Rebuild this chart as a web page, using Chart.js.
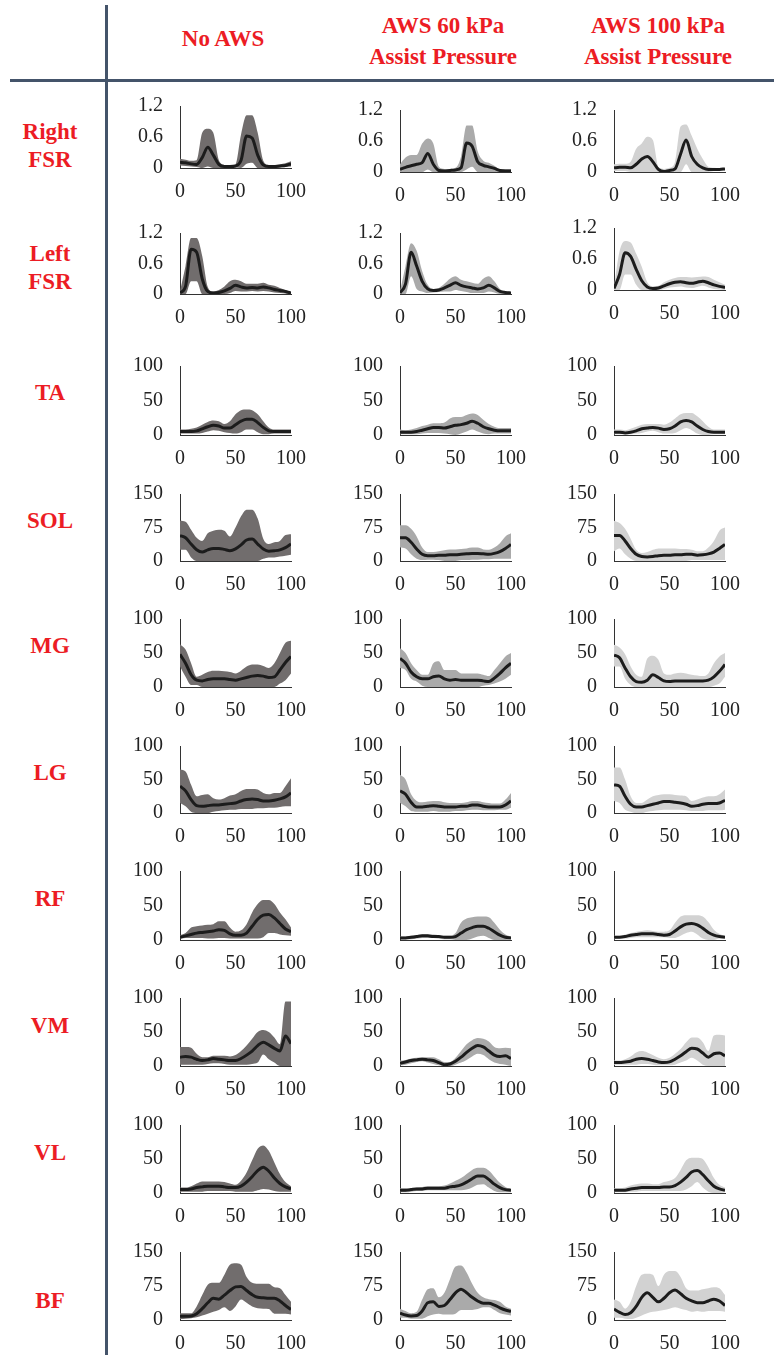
<!DOCTYPE html>
<html>
<head>
<meta charset="utf-8">
<script src="https://cdn.jsdelivr.net/npm/chart.js@4.4.1/dist/chart.umd.min.js"></script>
<style>
  body { margin: 0; background: #fff; }
  #page { position: relative; width: 774px; height: 1355px; overflow: hidden;
          font-family: 'Liberation Serif', 'Times New Roman', serif; }
  .lbl { position: absolute; color: #EC1C24; font-weight: bold; font-size: 23px;
         text-align: center; line-height: 31px; white-space: nowrap;
         transform: translate(-50%, -50%); }
  .rule { position: absolute; background: #44546A; }
  canvas { position: absolute; }
</style>
</head>
<body>
<div id="page">
  <div class="rule" style="left:105px;top:5px;width:3px;height:1350px"></div>
  <div class="rule" style="left:10px;top:79px;width:764px;height:3px"></div>

  <div class="lbl" style="left:223px;top:38px">No AWS</div>
  <div class="lbl" style="left:443px;top:41px">AWS 60 kPa<br>Assist Pressure</div>
  <div class="lbl" style="left:658px;top:41px">AWS 100 kPa<br>Assist Pressure</div>

  <div class="lbl" style="left:50px;top:146px;line-height:28px">Right<br>FSR</div>
  <div class="lbl" style="left:50px;top:268px;line-height:28px">Left<br>FSR</div>
  <div class="lbl" style="left:50px;top:392px">TA</div>
  <div class="lbl" style="left:50px;top:520px">SOL</div>
  <div class="lbl" style="left:50px;top:645px">MG</div>
  <div class="lbl" style="left:50px;top:772px">LG</div>
  <div class="lbl" style="left:50px;top:898px">RF</div>
  <div class="lbl" style="left:50px;top:1025px">VM</div>
  <div class="lbl" style="left:50px;top:1152px">VL</div>
  <div class="lbl" style="left:50px;top:1300px">BF</div>
</div>
<script>
// % gait cycle
const PCT = [0,5,10,15,20,25,30,35,40,45,50,55,60,65,70,75,80,85,90,95,100];
const X_TICKS = [0, 50, 100];
const FSR_TICKS = [0, 0.6, 1.2];
const EMG_TICKS = [0, 50, 100];
const EMG_TICKS_150 = [0, 75, 150];

// Right FSR
const rfsrNoMean = [0.11,0.10,0.08,0.07,0.20,0.40,0.25,0.07,0.03,0.03,0.04,0.15,0.62,0.58,0.25,0.06,0.03,0.03,0.04,0.05,0.08];
const rfsrNoHi   = [0.18,0.16,0.14,0.15,0.68,0.76,0.68,0.15,0.06,0.05,0.07,0.65,1.02,1.02,0.68,0.14,0.06,0.06,0.07,0.09,0.13];
const rfsrNoLo   = [0.05,0.04,0.03,0.02,0,0.03,0,0,0,0,0.01,0,0.08,0.10,0,0,0,0,0.01,0.02,0.03];
const rfsr60Mean = [0.05,0.09,0.12,0.15,0.18,0.36,0.15,0.03,0.02,0.03,0.04,0.08,0.56,0.50,0.20,0.13,0.10,0.07,0.03,0.02,0.02];
const rfsr60Hi   = [0.15,0.28,0.33,0.33,0.55,0.65,0.55,0.10,0.06,0.06,0.08,0.30,0.90,0.90,0.40,0.22,0.18,0.12,0.06,0.06,0.06];
const rfsr60Lo   = [0,0,0,0,0,0.05,0,0,0,0,0,0,0.05,0.10,0,0,0,0,0,0,0];
const rfsr100Mean = [0.08,0.09,0.09,0.08,0.15,0.25,0.30,0.20,0.05,0.01,0.03,0.06,0.35,0.62,0.30,0.15,0.08,0.05,0.05,0.05,0.06];
const rfsr100Hi   = [0.15,0.16,0.16,0.20,0.45,0.55,0.68,0.62,0.10,0.06,0.08,0.20,0.88,0.92,0.70,0.45,0.25,0.10,0.08,0.07,0.07];
const rfsr100Lo   = [0.02,0.02,0.02,0,0,0,0,0,0,0,0,0,0,0.15,0,0,0,0,0.02,0.02,0.03];

// Left FSR
const lfsrNoMean = [0.02,0.15,0.88,0.82,0.30,0.05,0.02,0.03,0.06,0.11,0.17,0.14,0.12,0.13,0.12,0.14,0.12,0.09,0.07,0.05,0.02];
const lfsrNoHi   = [0.05,0.55,1.10,1.10,0.75,0.14,0.05,0.08,0.15,0.25,0.28,0.25,0.20,0.20,0.20,0.22,0.18,0.16,0.12,0.08,0.04];
const lfsrNoLo   = [0,0,0.25,0.25,0,0,0,0,0,0.02,0.06,0.05,0.05,0.06,0.05,0.06,0.05,0.03,0.02,0.01,0];
const lfsr60Mean = [0.02,0.20,0.82,0.55,0.25,0.10,0.07,0.08,0.12,0.17,0.22,0.17,0.14,0.12,0.10,0.12,0.17,0.12,0.05,0.03,0.02];
const lfsr60Hi   = [0.05,0.55,1.00,0.85,0.45,0.18,0.10,0.12,0.20,0.30,0.35,0.28,0.25,0.22,0.20,0.30,0.35,0.25,0.10,0.05,0.04];
const lfsr60Lo   = [0,0,0.35,0.10,0.05,0.02,0.03,0.04,0.05,0.05,0.08,0.06,0.04,0.02,0.02,0.02,0.05,0.03,0,0,0];
const lfsr100Mean = [0.03,0.30,0.72,0.65,0.40,0.18,0.06,0.03,0.04,0.08,0.12,0.15,0.16,0.14,0.13,0.15,0.17,0.14,0.10,0.07,0.05];
const lfsr100Hi   = [0.06,0.75,0.95,0.92,0.70,0.45,0.15,0.07,0.08,0.15,0.20,0.23,0.25,0.25,0.24,0.25,0.26,0.25,0.20,0.15,0.10];
const lfsr100Lo   = [0,0,0.30,0.30,0.10,0,0,0,0,0.02,0.05,0.06,0.07,0.05,0.04,0.06,0.08,0.05,0.02,0.01,0];

// TA
const taNoMean = [5,5,5,6,9,12,14,13,10,10,15,20,23,23,18,11,6,5,5,5,5];
const taNoHi   = [8,8,9,11,15,19,21,20,16,20,30,36,37,36,30,20,11,8,8,8,8];
const taNoLo   = [2,2,2,2,3,5,7,6,4,3,2,4,8,8,4,1,1,2,2,2,2];
const ta60Mean = [4,4,4,5,7,9,11,11,10,12,14,15,17,20,17,12,9,7,6,6,6];
const ta60Hi   = [8,7,8,10,13,15,17,17,18,24,26,26,29,31,29,22,16,12,10,10,10];
const ta60Lo   = [1,1,1,1,2,3,3,3,2,1,0,2,5,8,5,2,1,2,2,2,2];
const ta100Mean = [4,4,3,4,6,9,10,11,10,8,9,13,19,21,19,13,8,5,4,4,4];
const ta100Hi   = [8,8,7,9,12,15,16,16,16,15,18,24,30,32,32,27,20,12,8,8,8];
const ta100Lo   = [1,1,1,1,2,3,5,6,4,2,2,3,7,10,7,2,0,0,1,1,1];

// SOL
const solNoMean = [57,52,38,25,20,25,28,28,26,23,27,36,47,49,38,27,22,23,25,30,38];
const solNoHi   = [90,88,70,52,45,62,68,70,68,55,75,100,115,115,95,50,38,42,45,58,60];
const solNoLo   = [25,25,8,0,0,0,0,0,0,0,0,0,0,0,0,5,8,8,10,12,14];
const sol60Mean = [52,52,42,27,15,12,12,13,13,14,14,15,16,17,17,16,15,17,21,28,37];
const sol60Hi   = [80,80,72,55,30,20,20,22,24,26,26,27,28,30,30,26,25,30,40,55,62];
const sol60Lo   = [30,28,15,5,2,3,3,2,0,0,0,2,2,3,3,4,4,5,5,5,5];
const sol100Mean = [57,57,45,28,15,10,9,10,12,13,13,14,14,15,15,13,14,16,20,28,37];
const sol100Hi   = [90,85,72,50,25,18,20,25,28,28,28,28,27,27,25,22,22,30,45,68,75];
const sol100Lo   = [22,28,15,5,0,0,0,0,0,0,0,0,0,0,2,2,2,2,2,2,2];

// MG
const mgNoMean = [48,35,18,10,9,11,12,12,12,11,10,12,14,16,17,16,14,15,25,36,45];
const mgNoHi   = [63,55,35,15,18,22,24,24,23,22,20,24,30,33,33,31,28,35,50,65,68];
const mgNoLo   = [30,15,3,3,0,0,0,0,0,0,0,0,0,0,0,0,0,0,5,10,20];
const mg60Mean = [42,35,22,15,12,12,15,16,12,10,11,10,10,10,10,9,8,13,20,28,35];
const mg60Hi   = [57,50,35,25,18,18,35,38,25,25,25,20,20,20,20,18,16,25,35,45,50];
const mg60Lo   = [28,25,12,8,2,0,0,0,0,0,0,0,0,0,0,2,3,5,8,12,18];
const mg100Mean = [47,43,28,15,8,7,10,18,14,9,8,9,9,9,9,9,9,10,15,23,33];
const mg100Hi   = [62,58,48,30,18,15,42,46,40,20,18,20,21,20,18,17,16,20,35,45,50];
const mg100Lo   = [30,30,12,3,0,0,0,0,0,0,0,0,0,0,0,0,0,0,2,5,15];

// LG
const lgNoMean = [40,33,20,11,10,11,12,12,13,14,15,18,20,21,20,18,18,19,21,24,30];
const lgNoHi   = [65,62,42,25,27,28,22,20,22,26,28,33,36,36,35,30,28,30,30,40,52];
const lgNoLo   = [15,10,2,0,0,0,2,3,4,5,5,6,6,6,7,7,8,8,9,10,10];
const lg60Mean = [33,28,16,9,9,10,11,10,9,9,9,10,10,12,12,10,9,9,9,12,18];
const lg60Hi   = [57,50,28,18,16,17,18,18,16,15,15,15,16,18,18,16,15,14,14,20,30];
const lg60Lo   = [15,10,3,2,2,2,3,2,2,2,3,3,4,5,5,4,4,4,5,5,8];
const lg100Mean = [42,40,25,13,9,9,11,13,15,17,17,16,15,13,10,11,13,14,14,15,19];
const lg100Hi   = [68,68,50,25,15,15,20,25,27,28,28,27,26,25,18,20,23,25,25,28,35];
const lg100Lo   = [18,15,5,2,0,0,2,3,4,5,5,5,5,4,3,3,3,4,4,4,5];

// RF
const rfNoMean = [4,6,8,10,11,12,13,15,14,9,7,7,10,20,30,36,37,32,24,16,12];
const rfNoHi   = [7,10,18,20,21,22,23,27,27,18,12,14,23,40,52,58,58,52,40,30,18];
const rfNoLo   = [2,3,3,3,3,2,2,3,3,2,2,2,2,2,2,4,10,10,8,7,6];
const rf60Mean = [3,3,4,5,6,6,5,5,4,4,5,10,15,18,20,20,17,12,7,4,3];
const rf60Hi   = [5,5,6,7,8,8,8,7,6,6,10,25,31,33,34,34,33,25,15,8,5];
const rf60Lo   = [1,1,1,2,3,3,3,2,1,1,0,0,0,2,5,6,3,0,0,0,1];
const rf100Mean = [4,4,5,7,8,9,9,9,8,7,8,13,19,23,24,22,17,11,7,5,4];
const rf100Hi   = [6,6,8,10,12,13,14,13,12,12,14,25,34,36,36,36,34,26,15,9,6];
const rf100Lo   = [1,2,2,3,4,4,4,4,4,4,3,3,6,10,12,8,2,0,0,2,2];

// VM
const vmNoMean = [13,14,13,10,8,9,11,10,9,8,8,11,16,22,30,35,31,26,22,44,33];
const vmNoHi   = [28,28,27,18,13,13,15,15,15,14,16,22,30,40,50,53,50,42,32,95,95];
const vmNoLo   = [2,2,2,2,2,3,4,4,3,2,2,2,2,3,5,17,10,5,0,0,0];
const vm60Mean = [4,6,8,9,10,9,8,5,2,3,7,13,20,26,30,28,22,16,14,15,11];
const vm60Hi   = [8,9,11,12,13,13,13,10,6,6,12,22,32,38,41,40,36,28,26,27,26];
const vm60Lo   = [1,2,4,6,7,5,3,1,0,0,2,5,9,14,18,16,10,5,3,2,0];
const vm100Mean = [5,5,6,7,10,11,10,8,6,5,6,10,15,21,26,25,19,13,18,19,15];
const vm100Hi   = [8,8,10,14,20,22,20,16,12,10,12,18,25,35,42,42,35,22,45,46,45];
const vm100Lo   = [2,2,2,2,2,3,3,2,1,1,1,2,5,8,12,8,2,0,0,0,0];

// VL
const vlNoMean = [5,5,6,8,9,10,10,10,9,8,8,10,16,24,33,38,32,22,14,9,6];
const vlNoHi   = [8,8,10,14,17,17,17,17,16,14,12,18,30,48,65,70,62,45,28,16,10];
const vlNoLo   = [2,2,2,2,2,3,3,3,3,3,2,2,2,2,4,6,5,3,2,2,2];
const vl60Mean = [4,4,5,6,6,7,7,7,7,9,10,12,16,21,25,25,20,13,8,5,4];
const vl60Hi   = [7,7,7,8,9,10,10,10,11,14,18,22,28,34,37,37,33,24,15,9,6];
const vl60Lo   = [1,1,2,3,3,4,4,4,4,4,4,4,5,8,12,13,8,3,1,1,1];
const vl100Mean = [4,4,4,6,7,8,8,8,8,9,9,11,16,23,31,33,27,18,10,6,4];
const vl100Hi   = [7,7,8,11,13,14,14,13,13,16,18,22,34,48,52,52,50,38,22,12,8];
const vl100Lo   = [1,1,1,2,2,3,3,3,3,3,3,3,3,5,10,16,8,2,0,0,1];

// BF
const bfNoMean = [8,8,9,14,25,38,48,46,55,65,73,74,65,56,50,49,48,48,42,32,23];
const bfNoHi   = [15,15,15,30,55,78,82,82,100,122,125,122,95,82,80,80,80,72,70,55,40];
const bfNoLo   = [2,3,4,6,10,14,18,22,28,20,30,45,38,30,26,25,24,14,14,14,12];
const bf60Mean = [15,11,9,10,20,38,40,30,32,45,60,68,60,50,42,37,37,33,27,22,19];
const bf60Hi   = [25,20,15,18,45,68,70,50,60,90,118,120,105,80,60,50,46,44,40,30,25];
const bf60Lo   = [5,5,3,3,3,8,12,14,12,12,14,22,22,22,24,28,28,22,15,12,10];
const bf100Mean = [24,17,12,16,30,50,60,50,40,48,60,66,58,48,42,38,38,42,46,42,32];
const bf100Hi   = [45,40,25,40,75,100,102,100,75,100,108,108,95,70,65,65,68,70,72,70,55];
const bf100Lo   = [5,5,3,2,5,10,15,18,20,22,25,28,25,22,18,20,18,20,20,20,18];

// layout of the grid (pixels)
const COL_AXIS_X = [180, 400, 614];
const PLOT_W = 111;
const ROW_TOP  = [[106,110,110],[233,233,228],[366,366,366],[494,494,494],[619,619,619],[746,746,746],[871,871,871],[998,998,998],[1125,1125,1125],[1252,1252,1252]];
const ROW_ZERO = [[168,172,172],[294,294,290],[435,435,435],[561,561,561],[687,687,687],[813,813,813],[940,940,940],[1066,1066,1066],[1193,1193,1193],[1320,1320,1320]];
const BAND_COLORS = ['#716d6d', '#aaaaaa', '#d2d2d2'];
const Y_W = 60, PAD_T = 14, PAD_R = 24, X_H = 38;
const SERIF = "'Liberation Serif', 'Times New Roman', serif";

const rows = [
  { ticks: FSR_TICKS, cells: [[rfsrNoMean, rfsrNoHi, rfsrNoLo], [rfsr60Mean, rfsr60Hi, rfsr60Lo], [rfsr100Mean, rfsr100Hi, rfsr100Lo]] },
  { ticks: FSR_TICKS, cells: [[lfsrNoMean, lfsrNoHi, lfsrNoLo], [lfsr60Mean, lfsr60Hi, lfsr60Lo], [lfsr100Mean, lfsr100Hi, lfsr100Lo]] },
  { ticks: EMG_TICKS, cells: [[taNoMean, taNoHi, taNoLo], [ta60Mean, ta60Hi, ta60Lo], [ta100Mean, ta100Hi, ta100Lo]] },
  { ticks: EMG_TICKS_150, cells: [[solNoMean, solNoHi, solNoLo], [sol60Mean, sol60Hi, sol60Lo], [sol100Mean, sol100Hi, sol100Lo]] },
  { ticks: EMG_TICKS, cells: [[mgNoMean, mgNoHi, mgNoLo], [mg60Mean, mg60Hi, mg60Lo], [mg100Mean, mg100Hi, mg100Lo]] },
  { ticks: EMG_TICKS, cells: [[lgNoMean, lgNoHi, lgNoLo], [lg60Mean, lg60Hi, lg60Lo], [lg100Mean, lg100Hi, lg100Lo]] },
  { ticks: EMG_TICKS, cells: [[rfNoMean, rfNoHi, rfNoLo], [rf60Mean, rf60Hi, rf60Lo], [rf100Mean, rf100Hi, rf100Lo]] },
  { ticks: EMG_TICKS, cells: [[vmNoMean, vmNoHi, vmNoLo], [vm60Mean, vm60Hi, vm60Lo], [vm100Mean, vm100Hi, vm100Lo]] },
  { ticks: EMG_TICKS, cells: [[vlNoMean, vlNoHi, vlNoLo], [vl60Mean, vl60Hi, vl60Lo], [vl100Mean, vl100Hi, vl100Lo]] },
  { ticks: EMG_TICKS_150, cells: [[bfNoMean, bfNoHi, bfNoLo], [bf60Mean, bf60Hi, bf60Lo], [bf100Mean, bf100Hi, bf100Lo]] }
];

const page = document.getElementById('page');
const pts = arr => arr.map((v, i) => ({ x: PCT[i], y: v }));

function drawCell(r, c) {
  const [mean, hi, lo] = rows[r].cells[c];
  const yTicks = rows[r].ticks;
  const top = ROW_TOP[r][c], zero = ROW_ZERO[r][c];
  const cv = document.createElement('canvas');
  cv.width = Y_W + PLOT_W + PAD_R;
  cv.height = PAD_T + (zero - top) + X_H;
  page.appendChild(cv);

  const tickFont = { family: SERIF, size: 20 };
  const chart = new Chart(cv, {
    type: 'line',
    data: {
      datasets: [
        // mean first so it is painted on top of the band
        { data: pts(mean), borderColor: '#1c1c1c', borderWidth: 3, pointRadius: 0, fill: false },
        { data: pts(hi), borderWidth: 0, pointRadius: 0, fill: '+1', backgroundColor: BAND_COLORS[c] },
        { data: pts(lo), borderWidth: 0, pointRadius: 0, fill: false }
      ]
    },
    options: {
      responsive: false,
      maintainAspectRatio: false,
      animation: false,
      devicePixelRatio: 1,
      layout: { padding: { top: PAD_T, right: PAD_R, left: 0, bottom: 0 } },
      elements: { line: { cubicInterpolationMode: 'monotone' } },
      plugins: { legend: { display: false }, tooltip: { enabled: false } },
      scales: {
        x: {
          type: 'linear', min: 0, max: 100,
          afterBuildTicks: s => { s.ticks = X_TICKS.map(v => ({ value: v })); },
          afterFit: s => { s.height = X_H; },
          grid: { display: false, drawTicks: false },
          border: { display: true, color: '#333', width: 1 },
          ticks: { padding: 12, color: '#222', font: tickFont, maxRotation: 0, autoSkip: false }
        },
        y: {
          min: 0, max: yTicks[yTicks.length - 1],
          afterBuildTicks: s => { s.ticks = yTicks.map(v => ({ value: v })); },
          afterFit: s => { s.width = Y_W; },
          grid: { display: false, drawTicks: false },
          border: { display: true, color: '#333', width: 1 },
          ticks: { padding: 17, color: '#222', font: tickFont, autoSkip: false, callback: v => v }
        }
      }
    }
  });

  // make the plot area exactly the size measured on the reference, then place it
  const ca = chart.chartArea;
  const dw = PLOT_W - Math.round(ca.right - ca.left);
  const dh = (zero - top) - Math.round(ca.bottom - ca.top);
  if (dw || dh) chart.resize(cv.width + dw, cv.height + dh);
  const ca2 = chart.chartArea;
  cv.style.left = (COL_AXIS_X[c] - ca2.left) + 'px';
  cv.style.top = (top - ca2.top) + 'px';
}

for (let r = 0; r < rows.length; r++) {
  for (let c = 0; c < 3; c++) drawCell(r, c);
}
</script>
</body>
</html>
